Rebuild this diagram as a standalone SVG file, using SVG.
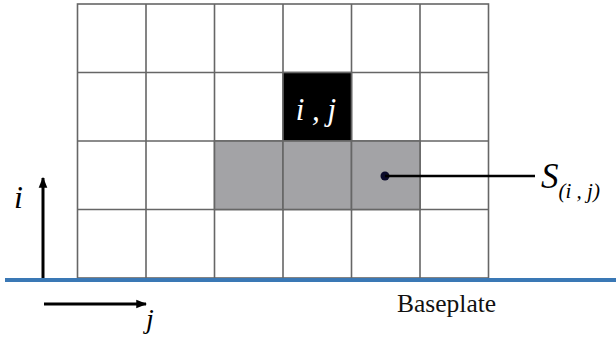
<svg xmlns="http://www.w3.org/2000/svg" width="616" height="340" viewBox="0 0 616 340">
<style>
.cell{fill:#ffffff;stroke:#666;stroke-width:1.6}
.gray{fill:#a3a3a6;stroke:#666;stroke-width:1.6}
.blk{fill:#000;stroke:#666;stroke-width:1.6}
.it{font-family:"Liberation Serif",serif;font-style:italic}
.rm{font-family:"Liberation Serif",serif}
.ax{stroke:#000;stroke-width:3;fill:none}
</style>
<defs>
<marker id="ah" viewBox="0 0 10 10" refX="9" refY="5" markerWidth="3.6" markerHeight="3.6" orient="auto" markerUnits="strokeWidth">
<path d="M0,1 L10,5 L0,9 z" fill="#000"/>
</marker>
</defs>
<g id="grid">
<rect class="cell" x="77.5" y="4" width="411" height="274"/>
<path d="M146,4V278M214.5,4V278M283,4V278M351.5,4V278M420,4V278M77.5,72.5H488.5M77.5,141H488.5M77.5,209.5H488.5" stroke="#666" stroke-width="1.6" fill="none"/>
</g>
<g id="cell-ij">
<rect class="blk" x="283" y="72.5" width="68.5" height="68.5"/>
<text class="it" x="316" y="120" font-size="31" fill="#fff" text-anchor="middle">i , j</text>
</g>
<g id="neighbourhood">
<rect class="gray" x="214.5" y="141" width="68.5" height="68.5"/>
<rect class="gray" x="283" y="141" width="68.5" height="68.5"/>
<rect class="gray" x="351.5" y="141" width="68.5" height="68.5"/>
</g>
<g id="baseplate">
<line x1="5" y1="280" x2="616" y2="280" stroke="#3a78b5" stroke-width="4"/>
<text class="rm" x="397" y="312" font-size="25.5" fill="#111">Baseplate</text>
</g>
<g id="connectors">
<circle cx="385" cy="176" r="4.5" fill="#0a0a2a"/>
<line x1="385" y1="176" x2="535" y2="176" stroke="#000" stroke-width="2.5"/>
<line class="ax" x1="43" y1="278" x2="43" y2="178" marker-end="url(#ah)"/>
<line class="ax" x1="44" y1="304" x2="146" y2="304" marker-end="url(#ah)"/>
</g>
<g id="labels">
<text class="it" x="541" y="188" font-size="35" fill="#000">S<tspan font-size="21" dy="10">(i , j)</tspan></text>
<text class="it" x="14" y="208" font-size="32" fill="#000">i</text>
<text class="it" x="146" y="328" font-size="28" fill="#000">j</text>
</g>
</svg>
